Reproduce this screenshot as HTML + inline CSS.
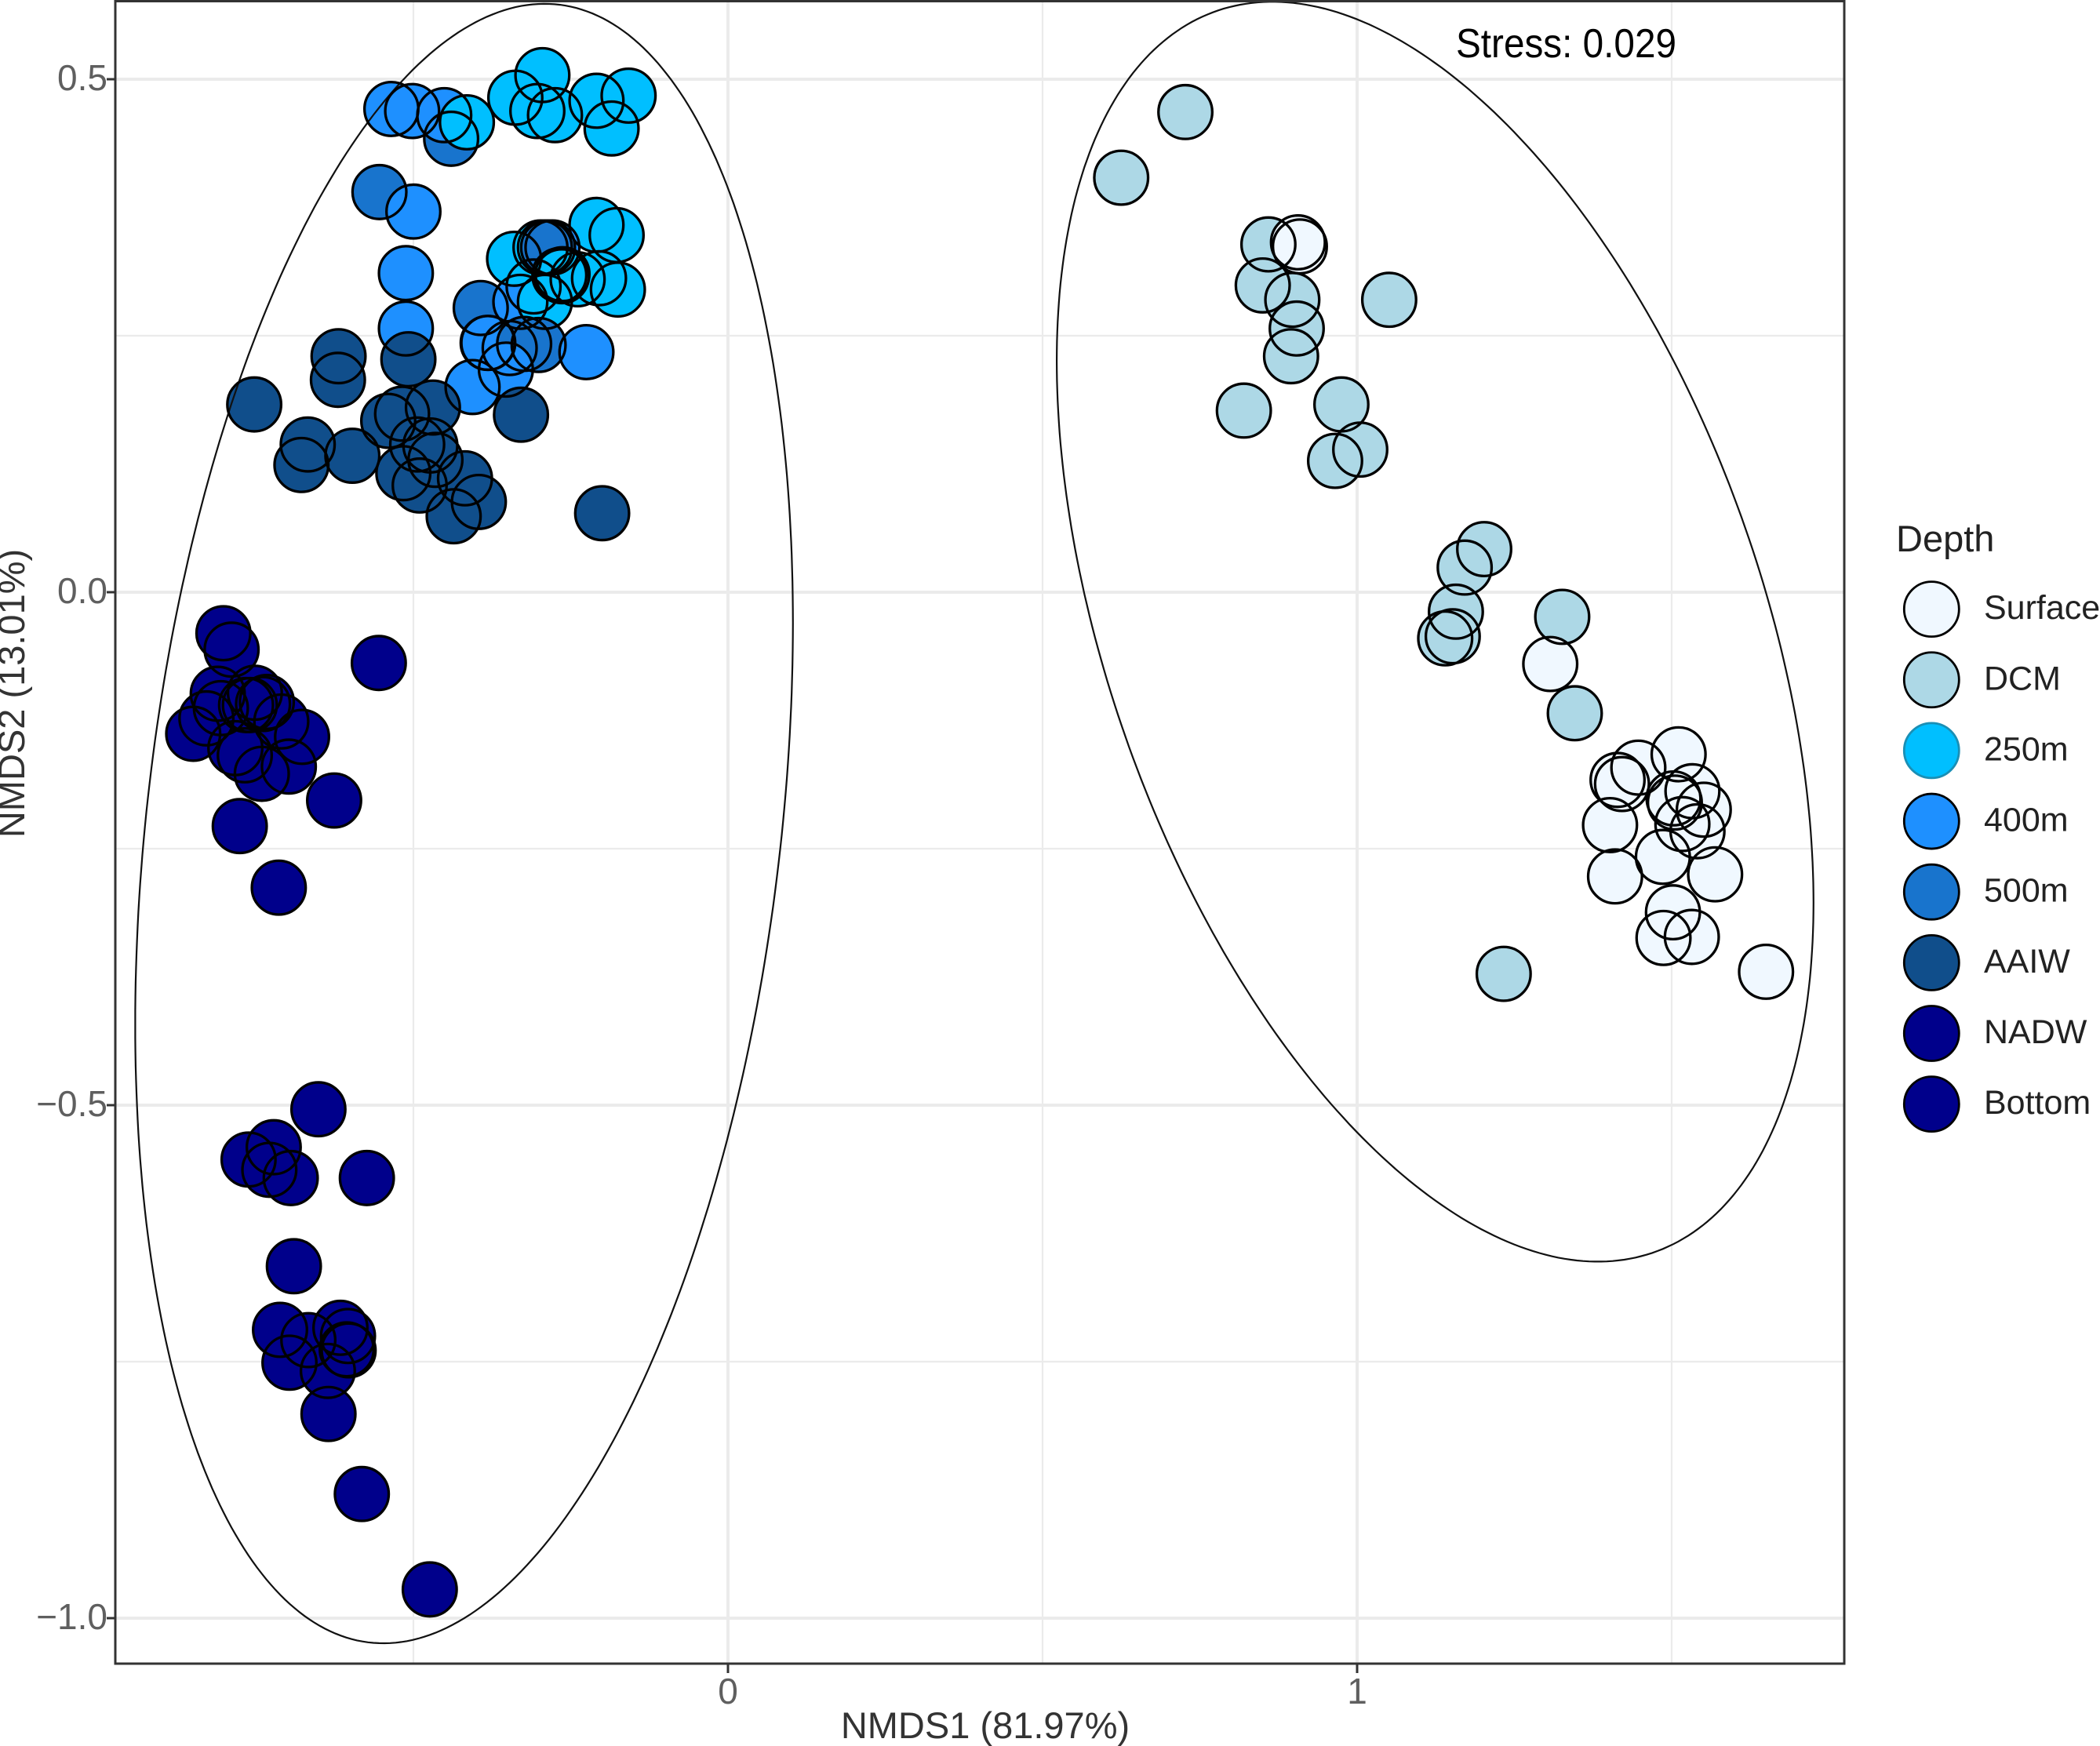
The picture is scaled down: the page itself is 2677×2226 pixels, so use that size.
<!DOCTYPE html>
<html lang="en">
<head>
<meta charset="utf-8">
<title>NMDS ordination by depth</title>
<style>
  html, body { margin: 0; padding: 0; background: #ffffff; }
  svg { display: block; font-family: "Liberation Sans", sans-serif; }
</style>
</head>
<body>
<svg id="chart" xmlns="http://www.w3.org/2000/svg" width="2677" height="2226" viewBox="0 0 2677 2226">
  <defs>
    <clipPath id="panel-clip"><rect x="147" y="2" width="2204" height="2119"/></clipPath>
  </defs>
  <rect x="0" y="0" width="2677" height="2226" fill="#ffffff"/>
  <g id="grid"></g>
  <g id="fills" clip-path="url(#panel-clip)"></g>
  <g id="ellipses" clip-path="url(#panel-clip)"></g>
  <g id="outlines" clip-path="url(#panel-clip)"></g>
  <rect x="147" y="1.5" width="2204" height="2119.5" fill="none" stroke="#333333" stroke-width="3"/>
  <g id="axes"></g>
  <text x="1256" y="2216" text-anchor="middle" font-size="47" fill="#333333">NMDS1 (81.97%)</text>
  <text transform="translate(31 884) rotate(-90)" text-anchor="middle" font-size="47" fill="#333333">NMDS2 (13.01%)</text>
  <text x="1856" y="73" font-size="52" fill="#000000" textLength="281" lengthAdjust="spacingAndGlyphs">Stress: 0.029</text>
  <g id="legend">
    <text x="2417" y="703" font-size="47" fill="#222222">Depth</text>
  </g>
</svg>
<script>
// Axis tick values and labels
const xMajorTicks = [0, 1];
const xTickLabels = ["0", "1"];
const xMinorGrid = [-0.5, 0.5, 1.5];
const yMajorTicks = [0.5, 0, -0.5, -1];
const yTickLabels = ["0.5", "0.0", "\u22120.5", "\u22121.0"];
const yMinorGrid = [0.25, -0.25, -0.75];

// Legend
const depthNames = ["Surface", "DCM", "250m", "400m", "500m", "AAIW", "NADW", "Bottom"];
const depthFills = ["#F0F8FF", "#ADD8E6", "#00BFFF", "#1E90FF", "#1874CD", "#104E8B", "#00008B", "#00008B"];

// Ordination scores (NMDS1 / NMDS2), one pair of arrays per draw run
const dcmX = [0.727, 0.625, 0.859, 0.850, 0.897, 0.904, 0.895, 1.051, 0.820, 0.975, 1.005, 0.965, 1.202, 1.171, 1.157, 1.140, 1.152, 1.326, 1.346, 1.233];
const dcmY = [0.468, 0.404, 0.339, 0.299, 0.285, 0.257, 0.230, 0.285, 0.177, 0.183, 0.139, 0.128, 0.042, 0.024, -0.019, -0.045, -0.043, -0.024, -0.118, -0.372];
const surfaceX = [0.906, 0.909, 1.307, 1.511, 1.447, 1.414, 1.421, 1.533, 1.503, 1.505, 1.551, 1.517, 1.541, 1.402, 1.486, 1.410, 1.569, 1.502, 1.487, 1.532, 1.650];
const surfaceY = [0.341, 0.337, -0.070, -0.158, -0.171, -0.183, -0.187, -0.194, -0.201, -0.205, -0.212, -0.226, -0.233, -0.227, -0.258, -0.277, -0.275, -0.312, -0.337, -0.336, -0.370];
const m500aX = [-0.440, -0.554, -0.393];
const m500aY = [0.442, 0.390, 0.277];
const m400aX = [-0.535, -0.502, -0.451, -0.500, -0.512, -0.512, -0.309, -0.330];
const m400aY = [0.471, 0.469, 0.465, 0.371, 0.311, 0.257, 0.298, 0.283];
const m250aX = [-0.415, -0.338, -0.295, -0.303, -0.275, -0.209, -0.158, -0.185, -0.340, -0.291, -0.209, -0.177, -0.175, -0.205, -0.239, -0.298, -0.291];
const m250aY = [0.458, 0.482, 0.504, 0.469, 0.465, 0.479, 0.484, 0.452, 0.325, 0.283, 0.358, 0.348, 0.295, 0.306, 0.305, 0.336, 0.336];
const m400bX = [-0.279];
const m400bY = [0.336];
const m500bX = [-0.286];
const m500bY = [0.336];
const m250bX = [-0.268, -0.264, -0.263];
const m250bY = [0.309, 0.308, 0.310];
const m400cX = [-0.382, -0.381, -0.347];
const m400cY = [0.243, 0.243, 0.238];
const m500cX = [-0.324, -0.301];
const m500cY = [0.242, 0.241];
const m400dX = [-0.406, -0.353, -0.225];
const m400dY = [0.200, 0.217, 0.234];
const aaiwX = [-0.508, -0.753, -0.619, -0.620, -0.668, -0.678, -0.597, -0.540, -0.518, -0.469, -0.329, -0.494, -0.473, -0.465, -0.516, -0.490, -0.418, -0.396, -0.436, -0.200];
const aaiwY = [0.227, 0.183, 0.230, 0.207, 0.144, 0.124, 0.133, 0.167, 0.174, 0.180, 0.173, 0.144, 0.143, 0.129, 0.116, 0.104, 0.111, 0.088, 0.074, 0.077];
const nadwX = [-0.802, -0.789, -0.555, -0.811, -0.752, -0.806, -0.829, -0.850, -0.766, -0.760, -0.733, -0.739, -0.710, -0.677, -0.783, -0.768, -0.741, -0.698, -0.626, -0.776, -0.714];
const nadwY = [-0.040, -0.056, -0.069, -0.099, -0.098, -0.113, -0.123, -0.138, -0.110, -0.110, -0.107, -0.109, -0.126, -0.141, -0.152, -0.159, -0.177, -0.170, -0.203, -0.228, -0.288];
const bottomX = [-0.651, -0.722, -0.762, -0.729, -0.695, -0.574, -0.690, -0.712, -0.667, -0.697, -0.616, -0.604, -0.603, -0.606, -0.636, -0.635, -0.582, -0.474];
const bottomY = [-0.504, -0.541, -0.553, -0.563, -0.571, -0.571, -0.657, -0.719, -0.729, -0.751, -0.717, -0.725, -0.739, -0.738, -0.759, -0.801, -0.879, -0.972];

// Draw order: depth name and score arrays for each run
const runDepths = ["DCM", "Surface", "500m", "400m", "250m", "400m", "500m", "250m", "400m", "500m", "400m", "AAIW", "NADW", "Bottom"];
const runX = [dcmX, surfaceX, m500aX, m400aX, m250aX, m400bX, m500bX, m250bX, m400cX, m500cX, m400dX, aaiwX, nadwX, bottomX];
const runY = [dcmY, surfaceY, m500aY, m400aY, m250aY, m400bY, m500bY, m250bY, m400cY, m500cY, m400dY, aaiwY, nadwY, bottomY];

// Confidence ellipses in data units: centre, half-extent, correlation
const ellipseCenterX = [-0.4195, 1.124];
const ellipseCenterY = [-0.2255, -0.0385];
const ellipseHalfX = [0.5227, 0.6014];
const ellipseHalfY = [0.799, 0.614];
const ellipseCorr = [0.245, -0.43];

const SVG_NS = "http://www.w3.org/2000/svg";
function xScale(v) { return 928 + 802 * v; }
function yScale(v) { return 755 - 1308 * v; }
function make(tag, parent, attrs) {
  const el = document.createElementNS(SVG_NS, tag);
  for (const k in attrs) el.setAttribute(k, attrs[k]);
  parent.appendChild(el);
  return el;
}

const gridG = document.getElementById("grid");
const axesG = document.getElementById("axes");
const fillsG = document.getElementById("fills");
const outlinesG = document.getElementById("outlines");
const ellipsesG = document.getElementById("ellipses");
const legendG = document.getElementById("legend");

xMinorGrid.forEach(function (v) {
  const el = make("line", gridG, { x1: xScale(v), x2: xScale(v), y1: 2, y2: 2121, stroke: "#ebebeb", "stroke-width": 2.2 });
  
  
});
yMinorGrid.forEach(function (v) {
  const el = make("line", gridG, { x1: 147, x2: 2351, y1: yScale(v), y2: yScale(v), stroke: "#ebebeb", "stroke-width": 2.2 });
  
  
});
xMajorTicks.forEach(function (v, i) {
  const grid = make("line", gridG, { x1: xScale(v), x2: xScale(v), y1: 2, y2: 2121, stroke: "#ebebeb", "stroke-width": 4 });
  
  
  const tick = make("line", axesG, { x1: xScale(v), x2: xScale(v), y1: 2121, y2: 2133, stroke: "#333333", "stroke-width": 3 });
  
  
  const label = make("text", axesG, { x: xScale(v), y: 2172, "text-anchor": "middle", "font-size": 46, fill: "#5f5f5f" });
  label.textContent = xTickLabels[i];
  
  
});
yMajorTicks.forEach(function (v, i) {
  const grid = make("line", gridG, { x1: 147, x2: 2351, y1: yScale(v), y2: yScale(v), stroke: "#ebebeb", "stroke-width": 4 });
  
  
  const tick = make("line", axesG, { x1: 136, x2: 147, y1: yScale(v), y2: yScale(v), stroke: "#333333", "stroke-width": 3 });
  
  
  const label = make("text", axesG, { x: 137, y: yScale(v) + 14, "text-anchor": "end", "font-size": 46, fill: "#5f5f5f" });
  label.textContent = yTickLabels[i];
  
  
});

runDepths.forEach(function (depth, r) {
  const fill = depthFills[depthNames.indexOf(depth)];
  runX[r].forEach(function (xv, i) {
    const cx = xScale(xv);
    const cy = yScale(runY[r][i]);
    const dot = make("circle", fillsG, { cx: cx, cy: cy, r: 34.3, fill: fill });
    
    
    const ring = make("circle", outlinesG, { cx: cx, cy: cy, r: 34.3, fill: "none", stroke: "#000000", "stroke-width": 3.3 });
    
    
  });
});

ellipseCenterX.forEach(function (cx, e) {
  const phase = Math.acos(ellipseCorr[e]);
  let d = "";
  for (let k = 0; k <= 360; k += 1) {
    const t = k * Math.PI / 180;
    const xv = cx + ellipseHalfX[e] * Math.cos(t);
    const yv = ellipseCenterY[e] + ellipseHalfY[e] * Math.cos(t - phase);
    d += (k === 0 ? "M" : "L") + xScale(xv).toFixed(1) + " " + yScale(yv).toFixed(1);
  }
  const path = make("path", ellipsesG, { d: d + "Z", fill: "none", stroke: "#111111", "stroke-width": 2.2 });
  
  
});

depthNames.forEach(function (name, i) {
  const cy = 776.6 + 90.15 * i;
  const swatch = make("circle", legendG, { cx: 2462.3, cy: cy, r: 35, fill: depthFills[i], stroke: name === "250m" ? "#1a8fb5" : "#000000", "stroke-width": 2.8 });
  
  
  const label = make("text", legendG, { x: 2529, y: cy + 12.5, "font-size": 43, fill: "#222222" });
  label.textContent = name;
  
  
});
</script>
</body>
</html>
